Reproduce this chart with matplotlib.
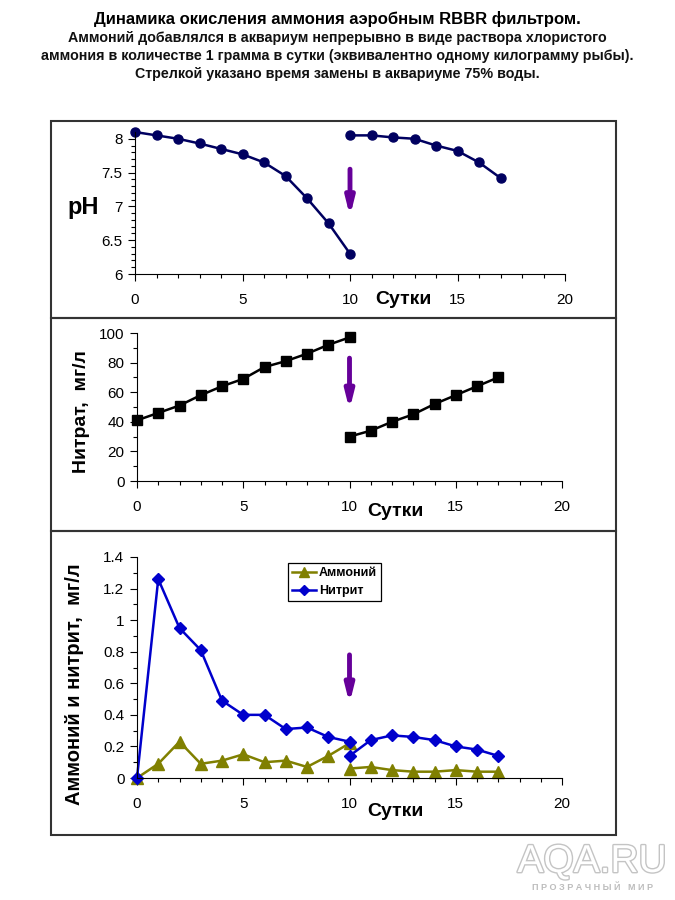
import matplotlib
matplotlib.use("Agg")
import matplotlib.pyplot as plt
from matplotlib.patches import Rectangle
from matplotlib.ticker import MultipleLocator, FuncFormatter
import matplotlib.patheffects as pe

plt.rcParams['font.family'] = ['Liberation Sans', 'DejaVu Sans']

# ---- data ----
days_a = [0, 1, 2, 3, 4, 5, 6, 7, 8, 9, 10]
days_b = [10, 11, 12, 13, 14, 15, 16, 17]

ph_a = [8.1, 8.05, 8.0, 7.93, 7.85, 7.77, 7.65, 7.45, 7.12, 6.75, 6.3]
ph_b = [8.05, 8.05, 8.02, 8.0, 7.9, 7.82, 7.65, 7.42]

nitrate_a = [41, 46, 51, 58, 64, 69, 77, 81, 86, 92, 97]
nitrate_b = [30, 34, 40, 45, 52, 58, 64, 70]

ammonium_a = [0.0, 0.09, 0.23, 0.09, 0.11, 0.15, 0.10, 0.11, 0.07, 0.14, 0.22]
ammonium_b = [0.06, 0.07, 0.05, 0.04, 0.04, 0.05, 0.04, 0.04]

nitrite_a = [0.0, 1.26, 0.95, 0.81, 0.49, 0.40, 0.40, 0.31, 0.32, 0.26, 0.23]
nitrite_b = [0.14, 0.24, 0.27, 0.26, 0.24, 0.20, 0.18, 0.14]

water_change_day = 10
arrow_ph = (7.55, 6.85)
arrow_no3 = (83, 48)
arrow_nh = (0.78, 0.47)

title = "Динамика окисления аммония аэробным RBBR фильтром."
subtitle = ["Аммоний добавлялся в аквариум непрерывно в виде раствора хлористого",
            "аммония в количестве 1 грамма в сутки (эквивалентно одному килограмму рыбы).",
            "Стрелкой указано время замены в аквариуме 75% воды."]

W, H = 675, 900
fig = plt.figure(figsize=(W / 100, H / 100), dpi=100)
fig.patch.set_facecolor('white')


def px_axes(x0, x1, ytop, ybot):
    return fig.add_axes([x0 / W, 1 - ybot / H, (x1 - x0) / W, (ybot - ytop) / H])


# panel frames
for top, bot in [(121, 318), (318, 531), (531, 835)]:
    fig.add_artist(Rectangle((51 / W, 1 - bot / H), (616 - 51) / W, (bot - top) / H,
                             transform=fig.transFigure, fill=False,
                             edgecolor='#333333', linewidth=1.5))

arrow_color = '#660099'
fmt = FuncFormatter(lambda v, p: f"{v:g}")


def style(ax):
    for s in ['top', 'right']:
        ax.spines[s].set_visible(False)
    for s in ['left', 'bottom']:
        ax.spines[s].set_color('black')
        ax.spines[s].set_linewidth(0.8)
    ax.set_xlim(0, 20)
    ax.xaxis.set_major_locator(MultipleLocator(5))
    ax.xaxis.set_minor_locator(MultipleLocator(1))
    ax.tick_params(which='major', direction='out', length=5, width=0.8,
                   labelsize=11, colors='black')
    ax.tick_params(axis='x', which='major', pad=9)
    ax.tick_params(axis='y', which='major', pad=4)
    ax.tick_params(which='minor', direction='out', length=3, width=0.8)
    ax.set_facecolor('none')


def arrow(ax, y0, y1):
    ax.annotate('', xy=(water_change_day, y1), xytext=(water_change_day, y0),
                arrowprops=dict(arrowstyle='-|>,head_length=1.0,head_width=0.25',
                                color=arrow_color, lw=3.5, shrinkA=0, shrinkB=0))


# ---- panel 1: pH ----
ax1 = px_axes(135, 565, 132, 274)
style(ax1)
ax1.set_ylim(6, 8.1)
ax1.yaxis.set_major_locator(MultipleLocator(0.5))
ax1.yaxis.set_minor_locator(MultipleLocator(0.1))
ax1.yaxis.set_major_formatter(fmt)
for xs, ys in [(days_a, ph_a), (days_b, ph_b)]:
    ax1.plot(xs, ys, color='#000060', lw=1.8, marker='o', ms=6.5,
             markerfacecolor='#000060', markeredgecolor='#000060', clip_on=False)
arrow(ax1, *arrow_ph)
fig.text(83 / W, 1 - 208 / H, "pH", fontsize=17, fontweight='bold', ha='center', va='center')
fig.text(403 / W, 1 - 300 / H, "Сутки", fontsize=14, fontweight='bold', ha='center', va='center')

# ---- panel 2: nitrate ----
ax2 = px_axes(137, 562, 333, 481)
style(ax2)
ax2.set_ylim(0, 100)
ax2.yaxis.set_major_locator(MultipleLocator(20))
ax2.yaxis.set_minor_locator(MultipleLocator(10))
for xs, ys in [(days_a, nitrate_a), (days_b, nitrate_b)]:
    ax2.plot(xs, ys, color='black', lw=1.8, marker='s', ms=6.5, clip_on=False)
arrow(ax2, *arrow_no3)
fig.text(82 / W, 1 - 412 / H, "Нитрат,  мг/л", fontsize=14, fontweight='bold',
         rotation=90, ha='center', va='center')
fig.text(395 / W, 1 - 512 / H, "Сутки", fontsize=14, fontweight='bold', ha='center', va='center')

# ---- panel 3: ammonium & nitrite ----
ax3 = px_axes(137, 562, 557, 778)
style(ax3)
ax3.set_ylim(0, 1.4)
ax3.yaxis.set_major_locator(MultipleLocator(0.2))
ax3.yaxis.set_minor_locator(MultipleLocator(0.1))
ax3.yaxis.set_major_formatter(fmt)
olive = '#808000'
blue = '#0000CC'
ax3.plot(days_a, ammonium_a, color=olive, lw=1.8, marker='^', ms=8.5, clip_on=False, label='Аммоний')
ax3.plot(days_b, ammonium_b, color=olive, lw=1.8, marker='^', ms=8.5, clip_on=False)
ax3.plot(days_a, nitrite_a, color=blue, lw=1.8, marker='D', ms=6.5, clip_on=False, label='Нитрит')
ax3.plot(days_b, nitrite_b, color=blue, lw=1.8, marker='D', ms=6.5, clip_on=False)
arrow(ax3, *arrow_nh)
leg = ax3.legend(loc='upper left', bbox_to_anchor=((288 - 137) / 425, 1 - (563 - 557) / 221),
                 frameon=True, fancybox=False, edgecolor='black', framealpha=1,
                 prop=dict(weight='bold', size=9),
                 handlelength=1.9, borderpad=0.35, labelspacing=0.45,
                 handletextpad=0.2, borderaxespad=0, markerscale=0.8)
leg.get_frame().set_linewidth(0.9)
fig.text(75 / W, 1 - 684 / H, "Аммоний и нитрит,  мг/л", fontsize=14.5, fontweight='bold',
         rotation=90, ha='center', va='center')
fig.text(395 / W, 1 - 812 / H, "Сутки", fontsize=14, fontweight='bold', ha='center', va='center')

# ---- titles ----
fig.text(0.5, 1 - 19 / H, title, fontsize=12, fontweight='bold', ha='center', va='center')
for i, line in enumerate(subtitle):
    fig.text(0.5, 1 - (38 + 18 * i) / H, line, fontsize=10.3, fontweight='bold',
             ha='center', va='center', color='#111111')

# ---- watermark ----
wm = fig.text(592 / W, 1 - 862 / H, "AQA.RU", fontsize=28, color='white',
              ha='center', va='center', fontweight='normal')
wm.set_path_effects([pe.withStroke(linewidth=2, foreground='#c4c4c4')])
fig.text(592 / W, 1 - 888 / H, "П Р О З Р А Ч Н Ы Й   М И Р", fontsize=6.5,
         color='#bdbdbd', ha='center', va='center', fontweight='bold')

fig.savefig("out.png", dpi=100, facecolor='white')
